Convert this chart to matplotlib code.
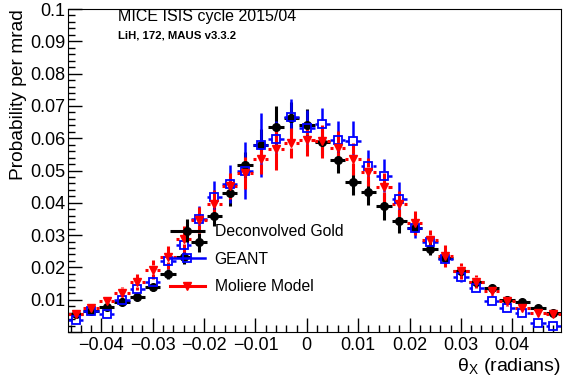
import numpy as np
import matplotlib
matplotlib.use('Agg')
import matplotlib.pyplot as plt
from matplotlib.lines import Line2D
from matplotlib.ticker import MultipleLocator, FuncFormatter
from matplotlib.legend_handler import HandlerErrorbar
from matplotlib.container import ErrorbarContainer

plt.rcParams['font.family'] = ['Liberation Sans', 'DejaVu Sans']
plt.rcParams['mathtext.fontset'] = 'custom'
plt.rcParams['mathtext.rm'] = 'Liberation Sans'
plt.rcParams['mathtext.it'] = 'Liberation Sans:italic'

# bin centres (radians), bin half width
theta = [-0.045, -0.042, -0.039, -0.036, -0.033, -0.030, -0.027, -0.024,
         -0.021, -0.018, -0.015, -0.012, -0.009, -0.006, -0.003, 0.0,
         0.003, 0.006, 0.009, 0.012, 0.015, 0.018, 0.021, 0.024,
         0.027, 0.030, 0.033, 0.036, 0.039, 0.042, 0.045, 0.048]
half_bin = 0.0015

gold = [0.0055, 0.0065, 0.0077, 0.0094, 0.0109, 0.0138, 0.0180, 0.0231,
        0.0278, 0.0358, 0.0429, 0.0517, 0.0579, 0.0635, 0.0663, 0.0640,
        0.0588, 0.0533, 0.0465, 0.0432, 0.0389, 0.0343, 0.0323, 0.0258,
        0.0228, 0.0190, 0.0156, 0.0136, 0.0100, 0.0093, 0.0073, 0.0058]
gold_err = [0.001, 0.001, 0.001, 0.001, 0.001, 0.001, 0.0016, 0.0021,
            0.003, 0.003, 0.004, 0.004, 0.005, 0.0065, 0.005, 0.005,
            0.004, 0.004, 0.004, 0.004, 0.0042, 0.0035, 0.002, 0.002,
            0.0015, 0.0012, 0.001, 0.001, 0.001, 0.001, 0.001, 0.001]

geant = [0.0036, 0.0064, 0.0055, 0.0100, 0.0133, 0.0156, 0.0221, 0.0268,
         0.0351, 0.0418, 0.0458, 0.0499, 0.0579, 0.0597, 0.0665, 0.0631,
         0.0644, 0.0593, 0.0592, 0.0514, 0.0484, 0.0413, 0.0322, 0.0278,
         0.0226, 0.0171, 0.0136, 0.0097, 0.0073, 0.0058, 0.0029, 0.0019]
geant_err = [0.001, 0.001, 0.001, 0.0012, 0.0015, 0.002, 0.0025, 0.003,
             0.004, 0.005, 0.006, 0.0088, 0.0099, 0.0055, 0.0057, 0.0055,
             0.005, 0.006, 0.006, 0.0048, 0.0052, 0.005, 0.003, 0.002,
             0.002, 0.0015, 0.0012, 0.001, 0.001, 0.001, 0.001, 0.001]

moliere = [0.0057, 0.0073, 0.0097, 0.0121, 0.0154, 0.0193, 0.0231, 0.0287,
           0.0346, 0.0396, 0.0451, 0.0493, 0.0535, 0.0567, 0.0585, 0.0595,
           0.0590, 0.0571, 0.0536, 0.0496, 0.0448, 0.0395, 0.0337, 0.0286,
           0.0235, 0.0190, 0.0156, 0.0128, 0.0097, 0.0073, 0.0058, 0.0055]
moliere_err = [0.001, 0.0012, 0.0015, 0.0018, 0.0025, 0.003, 0.0035, 0.004,
               0.004, 0.0045, 0.004, 0.0049, 0.0047, 0.0065, 0.0047, 0.005,
               0.0052, 0.005, 0.005, 0.0044, 0.0045, 0.004, 0.0037, 0.003,
               0.0033, 0.0025, 0.002, 0.0018, 0.0015, 0.0012, 0.001, 0.001]

fig = plt.figure(figsize=(5.65, 3.82), dpi=100)
ax = fig.add_axes([68/565, 1-332/382, 493/565, 323/382])


def draw_bars(x, y, ey, col, lw, gx, gy):
    # ROOT style error bars, leaving a gap round the marker
    x = np.array(x); y = np.array(y); ey = np.array(ey)
    ax.hlines(y, x - half_bin, x - gx, color=col, lw=lw, zorder=2)
    ax.hlines(y, x + gx, x + half_bin, color=col, lw=lw, zorder=2)
    ax.vlines(x, y + gy, np.maximum(y + ey, y + gy), color=col, lw=lw, zorder=2)
    ax.vlines(x, np.minimum(y - ey, y - gy), y - gy, color=col, lw=lw, zorder=2)


eb = ax.errorbar(theta, gold, xerr=half_bin, yerr=gold_err, fmt='o', color='black',
                 ms=5.5, elinewidth=2.2, capsize=0, zorder=2)

draw_bars(theta, geant, geant_err, 'blue', 1.8, 0.0008, 0.0013)
ax.plot(theta, geant, 's', mfc='none', mec='blue', mew=1.3, ms=5.5, zorder=3)

draw_bars(theta, moliere, moliere_err, 'red', 2.2, 0.0009, 0.0014)
ax.plot(theta, moliere, 'v', color='red', ms=5.5, zorder=4)

ax.set_xlim(-0.0465, 0.0495)
ax.set_ylim(0, 0.1)


def fmt(v, pos):
    v = round(v, 6)
    if v == 0:
        return '0'
    return ('%g' % v).replace('-', '\u2212')


def yfmt(v, pos):
    v = round(v, 6)
    if v == 0:
        return ''
    return '%g' % v


ax.xaxis.set_major_locator(MultipleLocator(0.01))
ax.xaxis.set_minor_locator(MultipleLocator(0.002))
ax.yaxis.set_major_locator(MultipleLocator(0.01))
ax.yaxis.set_minor_locator(MultipleLocator(0.002))
ax.xaxis.set_major_formatter(FuncFormatter(fmt))
ax.yaxis.set_major_formatter(FuncFormatter(yfmt))
ax.tick_params(which='both', direction='in', top=False, right=False, width=1)
ax.tick_params(which='major', length=10, labelsize=13)
ax.tick_params(which='minor', length=5)
ax.tick_params(axis='x', pad=3.5)
ax.tick_params(axis='y', pad=2)

ax.set_xlabel('\u03b8$_{\\mathrm{X}}$ (radians)', fontsize=14, ha='right')
ax.xaxis.set_label_coords(1.0, -0.074)
ax.xaxis.label.set_va('top')
ax.set_ylabel('Probability per mrad', fontsize=13.8, ha='right')
ax.yaxis.set_label_coords(-0.083, 1.0)

fig.text(118/565, 1-17/382, 'MICE ISIS cycle 2015/04', fontsize=11.5, va='center')
fig.text(118/565, 1-35/382, 'LiH, 172, MAUS v3.3.2', fontsize=8.2, weight='bold', va='center')

h_geant = Line2D([], [], color='blue', lw=1.8, marker='s', mfc='none', mec='blue', mew=1.3, ms=5.5)
h_mol = Line2D([], [], color='red', lw=2.2, marker='v', ms=5.5)
ax.legend([eb, h_geant, h_mol], ['Deconvolved Gold', 'GEANT', 'Moliere Model'],
          loc='upper left', bbox_to_anchor=(170/565, 1-224/382), bbox_transform=fig.transFigure,
          frameon=False, fontsize=11.3, handlelength=2.2, handletextpad=0.65,
          labelspacing=0.8, borderpad=0, borderaxespad=0,
          handler_map={ErrorbarContainer: HandlerErrorbar(xerr_size=1.1, yerr_size=0.75)})

fig.savefig('out.png', dpi=100)
